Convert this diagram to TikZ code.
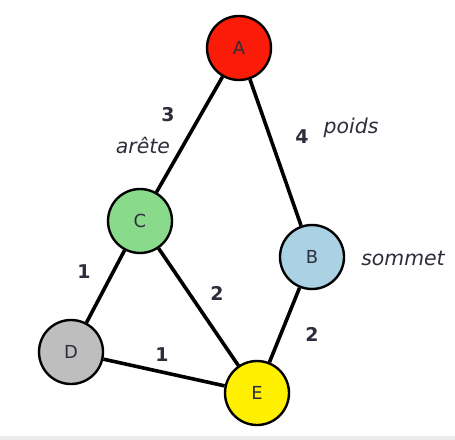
\documentclass[tikz,border=0pt]{standalone}
\usepackage{fontspec}
\setmainfont{DejaVu Sans}
\definecolor{cA}{RGB}{250,28,8}
\definecolor{cB}{RGB}{170,210,228}
\definecolor{cC}{RGB}{138,218,140}
\definecolor{cD}{RGB}{190,190,190}
\definecolor{cE}{RGB}{255,240,0}
\definecolor{txt}{RGB}{45,45,60}
\begin{document}
\begin{tikzpicture}[x=1bp,y=-1bp,
  vertex/.style={circle,draw=black,line width=2.4bp,minimum size=64bp,inner sep=0pt,
    text=txt,font=\fontsize{18}{21}\selectfont},
  edge/.style={line width=3.6bp,black},
  wlabel/.style={text=txt,font=\fontsize{19}{22}\selectfont\bfseries},
  tlabel/.style={text=txt,font=\fontsize{20.5}{24}\selectfont\itshape}]
\useasboundingbox (0,0) rectangle (455,440);
\fill[white] (0,0) rectangle (455,440);
\fill[black!8] (0,436) rectangle (455,440);
\node[vertex,fill=cA] (A) at (239,48) {A};
\node[vertex,fill=cC] (C) at (140,221) {C};
\node[vertex,fill=cB] (B) at (312,257) {B};
\node[vertex,fill=cD] (D) at (71,352) {D};
\node[vertex,fill=cE] (E) at (257,393) {E};
\draw[edge] (A) -- (C);
\draw[edge] (A) -- (B);
\draw[edge] (C) -- (D);
\draw[edge] (C) -- (E);
\draw[edge] (B) -- (E);
\draw[edge] (D) -- (E);
\node[wlabel] (w3) at (168,115) {3};
\node[tlabel] (t1) at (143,145) {arête};
\node[wlabel] (w4) at (302,137) {4};
\node[tlabel] (t2) at (351,128) {poids};
\node[tlabel] (t3) at (403,258) {sommet};
\node[wlabel] (w1a) at (84,272) {1};
\node[wlabel] (w2a) at (217,293) {2};
\node[wlabel] (w2b) at (312,334) {2};
\node[wlabel] (w1b) at (162,355) {1};
\end{tikzpicture}
\end{document}
